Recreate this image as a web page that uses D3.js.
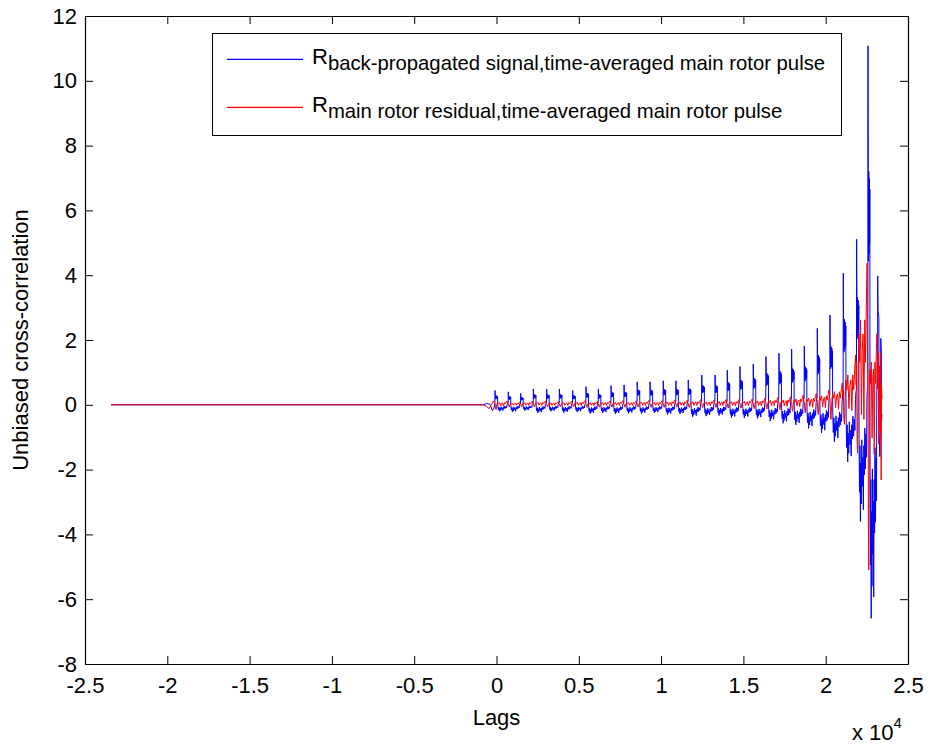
<!DOCTYPE html>
<html><head><meta charset="utf-8">
<script src="https://cdn.jsdelivr.net/npm/d3@7"></script>
<style>
body{margin:0;background:#fff}
svg text{font-family:Arial,"Liberation Sans",Helvetica,sans-serif;fill:#000}
</style>
</head><body>
<svg id="chart" width="930" height="750"></svg>
<script>
// ---------------- data ----------------
const xTickValues = [-25000,-20000,-15000,-10000,-5000,0,5000,10000,15000,20000,25000];
const xTickLabels = ["-2.5","-2","-1.5","-1","-0.5","0","0.5","1","1.5","2","2.5"];
const yTickValues = [-8,-6,-4,-2,0,2,4,6,8,10,12];
const yTickLabels = ["-8","-6","-4","-2","0","2","4","6","8","10","12"];
const seriesNames = ["back-propagated signal,time-averaged main rotor pulse",
                     "main rotor residual,time-averaged main rotor pulse"];

// lag positions of the periodic main-rotor pulses
const pulseLags = [-90,720,1470,2240,3050,3820,4630,5440,6190,6960,7750,8550,9330,10130,10900,
  11650,12470,13280,14020,14790,15600,16370,17160,17930,18700,19490,20260,21070,21880,22570,23160];
// blue: pulse peak heights and most negative value in each period
const bluePeaks = [0.44,0.40,0.35,0.49,0.48,0.49,0.44,0.56,0.49,0.59,0.61,0.71,0.71,0.74,0.74,0.77,
  0.92,0.92,1.07,1.18,1.26,1.49,1.59,1.72,1.81,2.36,2.77,4.06,5.11,11.08,3.98];
const blueTroughs = [-0.20,-0.22,-0.18,-0.25,-0.20,-0.24,-0.22,-0.27,-0.25,-0.28,-0.26,-0.27,-0.25,-0.30,
  -0.28,-0.37,-0.35,-0.33,-0.40,-0.40,-0.42,-0.50,-0.57,-0.62,-0.73,-0.87,-1.14,-1.76,-3.60,-6.59];
// red: largest and smallest value in each period
const redPeaks = [0.12,0.09,0.11,0.12,0.10,0.11,0.13,0.11,0.12,0.13,0.12,0.14,0.13,0.15,0.14,0.16,
  0.15,0.17,0.16,0.18,0.2,0.23,0.25,0.3,0.35,0.46,0.67,1.54,4.37,2.20];
const redTroughs = [-0.15,-0.06,-0.07,-0.06,-0.07,-0.06,-0.07,-0.08,-0.07,-0.07,-0.08,-0.07,-0.08,-0.08,
  -0.07,-0.08,-0.09,-0.08,-0.1,-0.1,-0.12,-0.13,-0.15,-0.2,-0.25,-0.3,-0.45,-0.6,-1.49,-5.10];

// shape of one period (fraction of period, fraction of peak (+) / trough (-))
const blueShapeT = [0,0.008,0.02,0.05,0.08,0.11,0.14,0.17,0.19,0.2,0.215,0.25,0.29,0.33,0.36,0.41,0.45,0.5,0.54,0.59,0.63,0.68,0.72,0.77,0.82,0.87,0.91,0.95,0.985];
const blueShapeV = [1,0.8,0.66,0.4,0.65,0.42,0.63,0.45,0.6,0.05,-0.3,-0.75,-0.35,-1.0,-0.5,-0.85,-0.3,-0.7,-0.45,-0.9,-0.35,-0.6,-0.2,-0.55,-0.25,-0.45,0.04,0.1,0.12];
const redShapeT = [0,0.04,0.08,0.14,0.2,0.27,0.34,0.42,0.5,0.57,0.64,0.71,0.78,0.85,0.92,0.96];
const redShapeV = [0.3,-0.7,-1.0,0.2,0.5,0.3,0.6,-0.2,0.4,0.5,-0.3,0.6,0.3,0.7,1.0,0.4];

// flat start and the irregular end of each record
const blueLeadIn = [[-23420,0],[-800,0],[-600,0.04],[-400,0.02],[-250,-0.18],[-150,-0.1],[-100,0.03]];
const redLeadIn  = [[-23420,0],[-800,0],[-600,-0.05],[-450,-0.12],[-300,0.02],[-200,0.12],[-100,0.05]];
const blueTail = [[23160,3.98],[23170,3.3],[23180,2.9],[23230,2.7],[23240,-0.8],[23290,-1.6],[23330,-0.6],[23345,2.05],[23375,1.7],[23390,-0.5],[23420,-0.3]];
const redTail  = [[23160,0.5],[23190,1.6],[23220,-1.2],[23260,1.2],[23300,-0.8],[23340,1.6],[23370,-2.32],[23390,0.6],[23420,0.2]];

// ---------------- build series ----------------
function build(leadIn, peaks, troughs, sT, sV, tail){
  const pts = leadIn.slice();
  for(let k=0;k<pulseLags.length-1;k++){
    const a = pulseLags[k], b = pulseLags[k+1];
    for(let i=0;i<sT.length;i++){
      const v = sV[i] >= 0 ? sV[i]*peaks[k] : sV[i]*Math.abs(troughs[k]);
      pts.push([a + sT[i]*(b-a), v]);
    }
  }
  return pts.concat(tail);
}
const blueData = build(blueLeadIn, bluePeaks, blueTroughs, blueShapeT, blueShapeV, blueTail);
const redData  = build(redLeadIn, redPeaks, redTroughs, redShapeT, redShapeV, redTail);

// ---------------- drawing ----------------
const svg = d3.select("#chart");
const L=85, R=908, T=16, B=664;
const x = d3.scaleLinear().domain([-25000,25000]).range([L,R]);
const y = d3.scaleLinear().domain([-8,12]).range([B,T]);

const line = d3.line().x(d=>x(d[0])).y(d=>y(d[1]));
svg.append("path").datum(blueData).attr("d",line).attr("fill","none").attr("stroke","#0000ff").attr("stroke-width",1);
svg.append("path").datum(redData).attr("d",line).attr("fill","none").attr("stroke","#ff0000").attr("stroke-width",1);

const fs = 22;
const xl = d3.axisBottom(x).tickValues(xTickValues).tickFormat((d,i)=>xTickLabels[i]).tickSizeInner(-8).tickSizeOuter(0).tickPadding(13);
const gx = svg.append("g").attr("transform",`translate(0,${B})`).call(xl);
const gxt = svg.append("g").attr("transform",`translate(0,${T})`).call(d3.axisTop(x).tickValues(xTickValues).tickFormat("").tickSizeInner(-8).tickSizeOuter(0));
const gy = svg.append("g").attr("transform",`translate(${L},0)`).call(d3.axisLeft(y).tickValues(yTickValues).tickFormat((d,i)=>yTickLabels[i]).tickSizeInner(-8).tickSizeOuter(0).tickPadding(8));
const gyr = svg.append("g").attr("transform",`translate(${R},0)`).call(d3.axisRight(y).tickValues(yTickValues).tickFormat("").tickSizeInner(-8).tickSizeOuter(0));
[gx,gxt,gy,gyr].forEach(g=>{
  g.selectAll("path.domain").attr("stroke","#000").attr("stroke-width",1.2);
  g.selectAll(".tick line").attr("stroke","#000");
  g.selectAll("text").attr("font-size",fs).attr("font-family","Arial, 'Liberation Sans', sans-serif").attr("fill","#000");
});

// axis labels
svg.append("text").attr("x",(L+R)/2).attr("y",725).attr("text-anchor","middle").attr("font-size",fs).text("Lags");
svg.append("text").attr("transform",`translate(28,${(T+B)/2}) rotate(-90)`).attr("text-anchor","middle").attr("font-size",fs).text("Unbiased cross-correlation");
const ex = svg.append("text").attr("x",852).attr("y",740).attr("font-size",fs);
ex.append("tspan").text("x 10");
ex.append("tspan").attr("dy",-12).attr("font-size",15).text("4");

// legend
const lg = svg.append("g");
lg.append("rect").attr("x",212.5).attr("y",33.5).attr("width",629).attr("height",102).attr("fill","#fff").attr("stroke","#000").attr("stroke-width",1);
const rows = [{c:"#0000ff", y:59.3, name:seriesNames[0]},{c:"#ff0000", y:107.3, name:seriesNames[1]}];
rows.forEach(r=>{
  lg.append("line").attr("x1",227).attr("x2",303).attr("y1",r.y).attr("y2",r.y)
    .style("stroke",r.c).style("stroke-width","1.2px");
  const t = lg.append("text").attr("x",312).attr("y",r.y+5).attr("font-size",22);
  t.append("tspan").text("R");
  t.append("tspan").attr("dy",6).attr("font-size",20.3).text(r.name);
});
</script>
</body></html>
